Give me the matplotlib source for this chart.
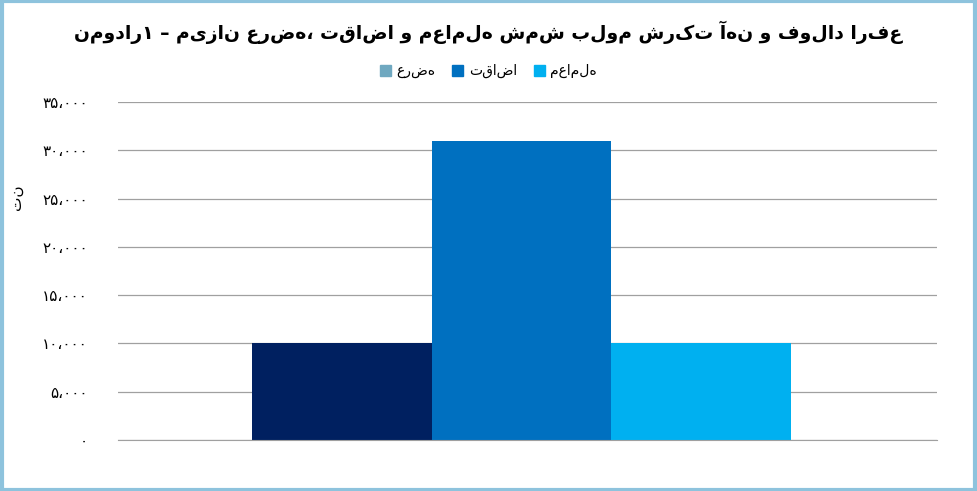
import matplotlib
matplotlib.use("Agg")
import matplotlib.pyplot as plt
from matplotlib.patches import Patch, Rectangle

plt.rcParams['font.family'] = ['DejaVu Sans', 'Noto Sans']

title = "نمودار۱ – میزان عرضه، تقاضا و معامله شمش بلوم شرکت آهن و فولاد ارفع"
categories = ["عرضه", "تقاضا", "معامله"]
values = [10000, 31000, 10000]
bar_colors = ["#002060", "#0070C0", "#00B0F0"]
legend_colors = ["#6FA8C0", "#0070C0", "#00B0F0"]
yticks = [0, 5000, 10000, 15000, 20000, 25000, 30000, 35000]
ytick_labels = ["۰", "۵،۰۰۰", "۱۰،۰۰۰", "۱۵،۰۰۰", "۲۰،۰۰۰", "۲۵،۰۰۰", "۳۰،۰۰۰", "۳۵،۰۰۰"]
ylabel = "تن"

fig = plt.figure(figsize=(9.77, 4.91), dpi=100)
ax = fig.add_axes([0.121, 0.104, 0.838, 0.688])
x = list(range(len(values)))
ax.bar(x, values, width=1.0, color=bar_colors)
ax.set_xlim(-1.244, 3.311)
ax.set_ylim(0, 35000)
ax.set_yticks(yticks)
ax.set_yticklabels(ytick_labels, fontsize=11)
ax.set_xticks([])
ax.grid(axis='y', color='#A0A0A0', linewidth=0.9)
ax.set_axisbelow(True)
for s in ['top', 'right', 'left']:
    ax.spines[s].set_visible(False)
ax.spines['bottom'].set_color('#A0A0A0')
ax.tick_params(axis='y', length=0, pad=22)
ax.set_ylabel(ylabel, fontsize=11, rotation=90, labelpad=2)
ax.yaxis.set_label_coords(-0.115, 0.72)

fig.text(0.5, 0.935, title, ha='center', va='center', fontsize=13.5, fontweight='bold')
handles = [Patch(color=c, label=l) for c, l in zip(legend_colors, categories)]
fig.legend(handles=handles, loc='center', bbox_to_anchor=(0.5, 0.855), ncol=3,
           frameon=False, fontsize=10, handlelength=0.8, handleheight=0.8,
           columnspacing=1.2, handletextpad=0.4)
fig.patches.append(Rectangle((0.002, 0.003), 0.996, 0.994, transform=fig.transFigure,
                             fill=False, edgecolor='#8EC3DD', linewidth=3))
fig.savefig("out.png", dpi=100)
